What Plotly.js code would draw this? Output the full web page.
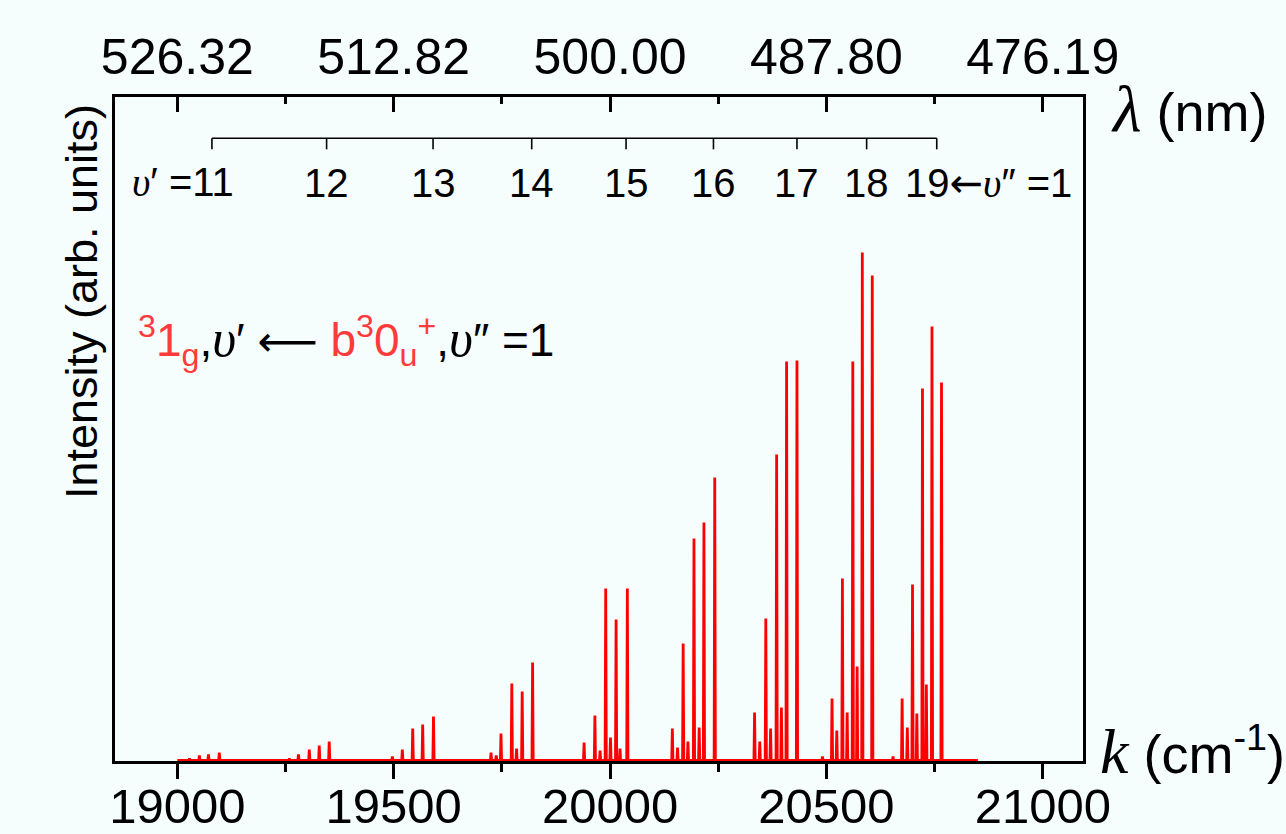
<!DOCTYPE html>
<html>
<head>
<meta charset="utf-8">
<script src="https://cdn.plot.ly/plotly-3.0.1.min.js"></script>
<style>
  html, body { margin: 0; padding: 0; background: #f5fdfd; }
  #chart { width: 1286px; height: 834px; }
</style>
</head>
<body>
<div id="chart"></div>
<script>
// ---- Data ----
// Wavenumber axis ticks (cm^-1) and matching wavelength labels (nm)
const kTicks = [19000, 19500, 20000, 20500, 21000];
const kTickLabels = ['19000', '19500', '20000', '20500', '21000'];
const kMinorTicks = [19250, 19750, 20250, 20750];
const lambdaLabels = ['526.32', '512.82', '500.00', '487.80', '476.19'];

// Vibrational progression v' = 11 ... 19 (band markers, cm^-1)
const bandPos = [19080, 19345, 19591, 19819, 20037, 20239, 20432, 20593, 20755];
const bandLabels = ['11', '12', '13', '14', '15', '16', '17', '18', '19'];

// Spectral lines: position (cm^-1) and intensity (arb. units)
const linePos = [
  19028, 19051, 19072, 19097,
  19259, 19280, 19305, 19328, 19351,
  19497, 19520, 19544, 19567, 19592,
  19725, 19737, 19748, 19773, 19784, 19797, 19821,
  19940, 19965, 19977, 19990, 20001, 20014, 20023, 20040,
  20144, 20156, 20169, 20180, 20194, 20206, 20217, 20242,
  20334, 20346, 20360, 20371, 20385, 20396, 20408, 20432,
  20491, 20513, 20524, 20537, 20548, 20561, 20571, 20583, 20606,
  20654, 20675, 20687, 20699, 20709, 20722, 20731, 20744, 20766
];
const lineInt = [
  2, 5, 6, 8,
  2, 6, 11, 15, 19,
  4, 11, 32, 36, 44,
  8, 5, 27, 77, 12, 69, 98,
  18, 45, 10, 172, 23, 141, 12, 172,
  32, 13, 117, 19, 222, 33, 238, 283,
  48, 19, 142, 32, 306, 53, 399, 400,
  4, 62, 30, 182, 48, 399, 94, 508, 485,
  4, 62, 33, 176, 47, 372, 76, 434, 378
];
const specStart = 19000, specEnd = 20850;

// ---- Build the stick spectrum trace from the line list ----
const sx = [specStart], sy = [0];
linePos.forEach((p, i) => {
  sx.push(p - 1.4, p, p + 1.4);
  sy.push(0, lineInt[i], 0);
});
sx.push(specEnd); sy.push(0);

const RED = '#ff0000';
const TXTRED = '#ff3a3a';
const FONT = 'Liberation Sans, Arial, sans-serif';
const SERIF = 'Liberation Serif';
const ARROWFONT = 'DejaVu Sans';

const traces = [
  { x: sx, y: sy, type: 'scatter', mode: 'lines',
    line: { color: RED, width: 2.8 }, hoverinfo: 'skip', showlegend: false, xaxis: 'x', yaxis: 'y' },
  // invisible trace to activate top axis
  { x: [kTicks[0]], y: [0], type: 'scatter', mode: 'markers', marker: { opacity: 0 },
    xaxis: 'x2', yaxis: 'y', showlegend: false, hoverinfo: 'skip' }
];

const xRange = [18856, 21093];

// ---- Scale bar for v' progression (shapes) ----
const barY = 0.9378, barTickY = 0.9212;
const shapes = [
  { type: 'line', xref: 'x', yref: 'paper', x0: bandPos[0], x1: bandPos[bandPos.length - 1],
    y0: barY, y1: barY, line: { color: '#000', width: 1.6 } }
];
bandPos.forEach(p => shapes.push({ type: 'line', xref: 'x', yref: 'paper', x0: p, x1: p,
  y0: barY, y1: barTickY, line: { color: '#000', width: 1.6 } }));

const ups = '<i><span style="font-family:' + SERIF + '">υ</span></i>';
const upsBig = '<i><span style="font-family:' + SERIF + ';font-size:52px">υ</span></i>';
const arrow = '<span style="font-family:' + ARROWFONT + '">←</span>';
const longArrow = '<span style="font-family:' + ARROWFONT + ';font-size:42px">⟵</span>';
const annotations = [];
// band labels
bandLabels.forEach((lab, i) => {
  if (i === 0) {
    annotations.push({ xref: 'x', yref: 'paper', x: bandPos[i], y: 0.8705, xanchor: 'left', yanchor: 'middle',
      xshift: -82, showarrow: false, text: ups + '′ =' + lab, font: { family: FONT, size: 40, color: '#000' } });
  } else if (i === bandLabels.length - 1) {
    annotations.push({ xref: 'x', yref: 'paper', x: bandPos[i], y: 0.8705, xanchor: 'left', yanchor: 'middle',
      xshift: -34, showarrow: false, text: lab + arrow + ups + '″ =1', font: { family: FONT, size: 40, color: '#000' } });
  } else {
    annotations.push({ xref: 'x', yref: 'paper', x: bandPos[i], y: 0.8705, xanchor: 'center', yanchor: 'middle',
      showarrow: false, text: lab, font: { family: FONT, size: 40, color: '#000' } });
  }
});
// transition label
annotations.push({ xref: 'paper', yref: 'paper', x: 0.022, y: 0.634, xanchor: 'left', yanchor: 'middle', showarrow: false,
  text: '<span style="color:' + TXTRED + '"><sup>3</sup>1<sub>g</sub></span>,' + upsBig + '′ ' + longArrow + ' ' +
        '<span style="color:' + TXTRED + '">b<sup>3</sup>0<sub>u</sub><sup>+</sup></span>,' + upsBig + '″ =1',
  font: { family: FONT, size: 46, color: '#000' } });
// y title
annotations.push({ xref: 'paper', yref: 'paper', x: -0.0345, y: 0.692, xanchor: 'center', yanchor: 'middle',
  textangle: -90, showarrow: false, text: 'Intensity (arb. units)', font: { family: FONT, size: 45, color: '#000' } });
// axis names at right
annotations.push({ xref: 'paper', yref: 'paper', x: 1.027, y: 0.982, xanchor: 'left', yanchor: 'middle', showarrow: false,
  text: '<i><span style="font-family:' + SERIF + ';font-size:66px">λ</span></i> (nm)', font: { family: FONT, size: 54, color: '#000' } });
annotations.push({ xref: 'paper', yref: 'paper', x: 1.016, y: 0.0136, xanchor: 'left', yanchor: 'middle', showarrow: false,
  text: '<i><span style="font-family:' + SERIF + ';font-size:64px">k</span></i> (cm<sup>-1</sup>)', font: { family: FONT, size: 54, color: '#000' } });

const layout = {
  width: 1286, height: 834,
  paper_bgcolor: '#f5fdfd', plot_bgcolor: '#f5fdfd',
  margin: { l: 114.5, r: 202.5, t: 96.5, b: 73, pad: 0 },
  showlegend: false,
  font: { family: FONT, color: '#000' },
  xaxis: {
    range: xRange, showgrid: false, zeroline: false,
    showline: true, linecolor: '#000', linewidth: 3, layer: 'below traces',
    tickmode: 'array', tickvals: kTicks, ticktext: kTickLabels,
    ticks: 'outside', ticklen: 15, tickwidth: 3, tickcolor: '#000',
    ticklabelstandoff: -15,
    tickfont: { family: FONT, size: 49, color: '#000' },
    minor: { tickmode: 'array', tickvals: kMinorTicks, ticks: 'outside', ticklen: 8, tickwidth: 3, tickcolor: '#000' }
  },
  xaxis2: {
    overlaying: 'x', side: 'top', range: xRange, showgrid: false, zeroline: false,
    showline: true, linecolor: '#000', linewidth: 3, layer: 'below traces',
    tickmode: 'array', tickvals: kTicks, ticktext: lambdaLabels,
    ticks: 'inside', ticklen: 15, tickwidth: 3, tickcolor: '#000',
    tickfont: { family: FONT, size: 50, color: '#000' },
    minor: { tickmode: 'array', tickvals: kMinorTicks, ticks: 'inside', ticklen: 7, tickwidth: 3, tickcolor: '#000' }
  },
  yaxis: {
    range: [-0.5, 663.5], showgrid: false, zeroline: false,
    showline: true, mirror: true, linecolor: '#000', linewidth: 3, layer: 'below traces',
    ticks: '', showticklabels: false
  },
  shapes: shapes,
  annotations: annotations
};

Plotly.newPlot('chart', traces, layout, { displayModeBar: false, staticPlot: true });
</script>
</body>
</html>
